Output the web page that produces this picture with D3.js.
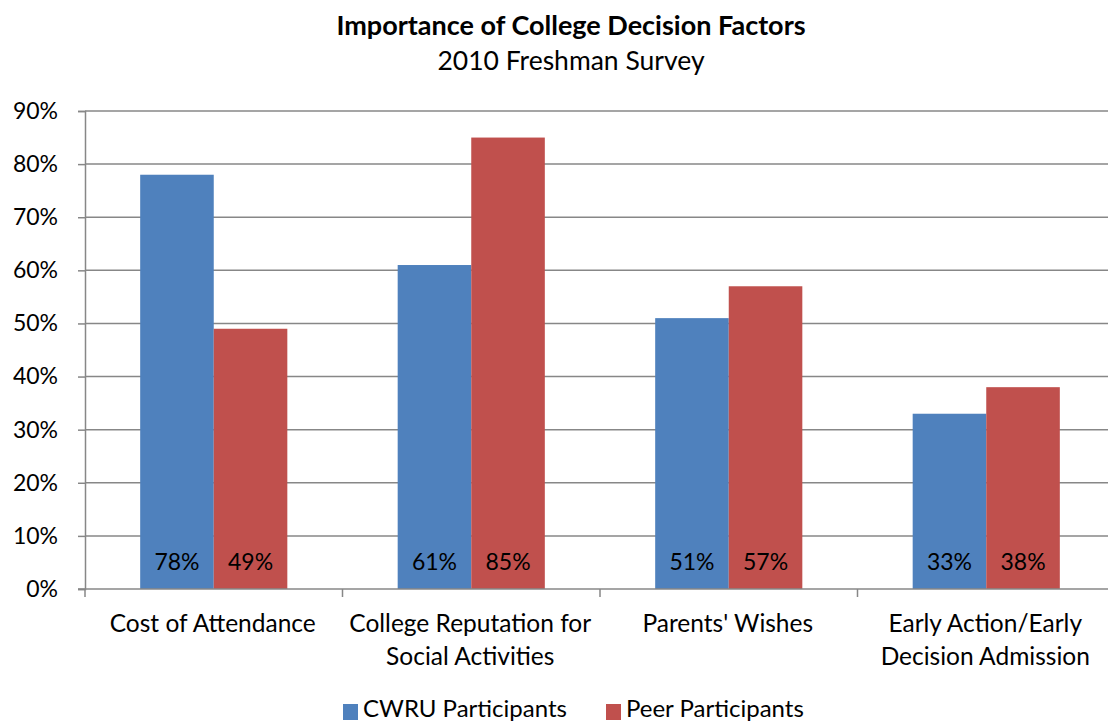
<!DOCTYPE html>
<html><head><meta charset="utf-8">
<script src="https://cdn.jsdelivr.net/npm/d3@7"></script>
<style>body{margin:0;background:#fff}svg{display:block}text{font-family:Lato,"Open Sans",sans-serif;fill:#000}</style>
</head><body><svg id="c" width="1108" height="723"></svg>
<script>
const categories = [["Cost of Attendance"], ["College Reputation for", "Social Activities"], ["Parents' Wishes"], ["Early Action/Early", "Decision Admission"]];
const seriesNames = ["CWRU Participants", "Peer Participants"];
const cwru = [78, 61, 51, 33];
const peer = [49, 85, 57, 38];
const yTicks = [0, 10, 20, 30, 40, 50, 60, 70, 80, 90];
const colors = ["#4F81BD", "#C0504D"];

const svg = d3.select("#c");
const m = {left: 85, right: 1115, top: 111, bottom: 589};
const x = d3.scaleBand().domain(d3.range(categories.length)).range([m.left, m.right]).paddingInner(0).paddingOuter(0);
const inner = d3.scaleBand().domain([0, 1]).range([0, x.bandwidth()]).paddingOuter(0.75).paddingInner(0);
const y = d3.scaleLinear().domain([0, 90]).range([m.bottom, m.top]);

svg.append("text").attr("x", 571).attr("y", 35).attr("text-anchor", "middle")
  .style("font-weight", "bold").style("font-size", "27px").text("Importance of College Decision Factors");
svg.append("text").attr("x", 571).attr("y", 70).attr("text-anchor", "middle")
  .style("font-size", "26.5px").text("2010 Freshman Survey");

// gridlines
svg.append("g").selectAll("line").data(yTicks.filter(d => d > 0)).join("line")
  .attr("x1", m.left).attr("x2", m.right).attr("y1", d => y(d)).attr("y2", d => y(d))
  .attr("stroke", "#878787").attr("stroke-width", 1.5);

// y axis
const ya = svg.append("g").attr("transform", `translate(${m.left},0)`)
  .call(d3.axisLeft(y).tickValues(yTicks).tickFormat(d => d + "%").tickSize(7).tickPadding(5));
ya.select(".domain").attr("stroke", "#878787").attr("stroke-width", 1.5);
ya.selectAll(".tick line").attr("stroke", "#878787").attr("stroke-width", 1.5);
ya.selectAll(".tick text").style("font-size", "23px").style("font-family", "Lato, sans-serif").attr("x", -27);

// bars
const data = categories.map((c, i) => [cwru[i], peer[i]]);
const groups = svg.append("g").selectAll("g").data(data).join("g")
  .attr("transform", (d, i) => `translate(${x(i)},0)`);
groups.selectAll("rect").data(d => d).join("rect")
  .attr("x", (d, j) => inner(j)).attr("width", inner.bandwidth())
  .attr("y", d => y(d)).attr("height", d => y(0) - y(d))
  .attr("fill", (d, j) => colors[j]);
groups.selectAll("text").data(d => d).join("text")
  .attr("x", (d, j) => inner(j) + inner.bandwidth() / 2).attr("y", 570)
  .attr("text-anchor", "middle").style("font-size", "23px").text(d => d + "%");

// x axis
const xa = svg.append("g").attr("transform", `translate(0,${m.bottom})`);
xa.append("line").attr("x1", m.left - 7).attr("x2", m.right).attr("stroke", "#878787").attr("stroke-width", 1.5);
xa.selectAll("line.t").data(d3.range(categories.length + 1)).join("line").attr("class", "t")
  .attr("x1", i => m.left + i * x.step()).attr("x2", i => m.left + i * x.step())
  .attr("y1", 0).attr("y2", 8).attr("stroke", "#878787").attr("stroke-width", 1.5);
const cl = svg.append("g").selectAll("text").data(categories).join("text")
  .attr("text-anchor", "middle").style("font-size", "24.5px")
  .attr("transform", (d, i) => `translate(${x(i) + x.bandwidth() / 2 - 1},632)`);
cl.selectAll("tspan").data(d => d).join("tspan").attr("x", 0).attr("dy", (d, k) => k ? 33 : 0).text(d => d);

// legend
const lg = svg.append("g");
const lx = [343, 606];
seriesNames.forEach((s, j) => {
  lg.append("rect").attr("x", lx[j]).attr("y", 704).attr("width", 15).attr("height", 16).attr("fill", colors[j]);
  lg.append("text").attr("x", lx[j] + 20).attr("y", 717).style("font-size", "24px").text(s);
});
</script></body></html>
